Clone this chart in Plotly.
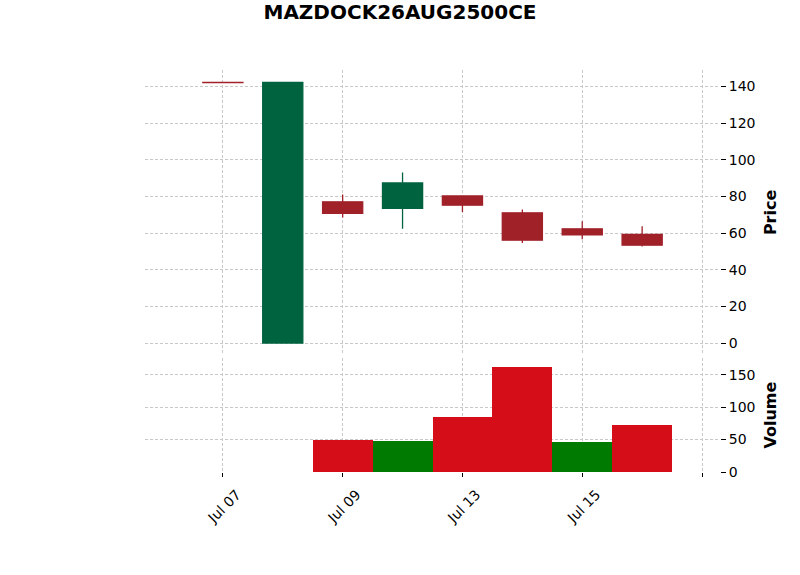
import plotly.graph_objects as go

dates = ["Jul 07", "Jul 08", "Jul 09", "Jul 10", "Jul 13", "Jul 14", "Jul 15", "Jul 16"]
opens = [142.2, 0.0, 77.0, 73.5, 80.2, 71.0, 62.3, 59.2]
highs = [142.2, 142.2, 81.0, 93.0, 80.5, 72.8, 66.4, 63.7]
lows = [142.0, 0.0, 68.5, 62.3, 71.5, 54.6, 56.6, 52.7]
closes = [142.0, 142.2, 70.8, 87.3, 75.2, 56.1, 59.0, 53.4]
volumes = [0, 0, 50, 48, 85, 162, 46, 72]

tick_pos = [0, 2, 4, 6, 8]
tick_labels = ["Jul 07", "Jul 09", "Jul 13", "Jul 15", ""]
price_ticks = [0, 20, 40, 60, 80, 100, 120, 140]
volume_ticks = [0, 50, 100, 150]

UP_C, DOWN_C = "#006340", "#a02128"
VUP_C, VDOWN_C = "#007a00", "#d50d18"

idx = list(range(len(dates)))
vcolors = []
for i in idx:
    prev = closes[i - 1] if i > 0 else opens[i]
    vcolors.append(VUP_C if closes[i] >= prev else VDOWN_C)

fig = go.Figure()
fig.add_trace(go.Candlestick(
    x=idx, open=opens, high=highs, low=lows, close=closes,
    increasing=dict(line=dict(color=UP_C, width=1.3), fillcolor=UP_C),
    decreasing=dict(line=dict(color=DOWN_C, width=1.3), fillcolor=DOWN_C),
    xaxis="x", yaxis="y", showlegend=False, hoverinfo="skip",
))
fig.add_trace(go.Bar(
    x=idx, y=volumes, width=1.0, marker=dict(color=vcolors, line=dict(width=0)),
    xaxis="x2", yaxis="y2", showlegend=False,
))

grid = dict(showgrid=True, gridcolor="#c8c8c8", gridwidth=0.8, griddash="3px,2px", zeroline=False)
fig.update_layout(
    width=800, height=575,
    margin=dict(l=145, r=80, t=70, b=103),
    plot_bgcolor="white", paper_bgcolor="white",
    font=dict(family="DejaVu Sans", size=14, color="black"),
    title=dict(text="<b>MAZDOCK26AUG2500CE</b>", x=0.5, xanchor="center", y=0.98, yanchor="middle",
               font=dict(size=20, family="DejaVu Sans", color="black")),
    boxgap=0.33, boxgroupgap=0,
    xaxis=dict(domain=[0, 1], anchor="y", range=[-1.3, 8.3], tickvals=tick_pos, ticktext=tick_labels,
               showticklabels=False, rangeslider=dict(visible=False), **grid),
    yaxis=dict(domain=[0.2916, 1], anchor="x", side="right", range=[-6.37, 148.9], tickvals=price_ticks,
               ticks="outside", ticklen=5, tickcolor="black", tickwidth=1,
               title=dict(text="<b>Price</b>", font=dict(size=16), standoff=10), **grid),
    xaxis2=dict(domain=[0, 1], anchor="y2", range=[-1.3, 8.3], tickvals=tick_pos, ticktext=tick_labels,
                ticks="outside", ticklen=4, tickcolor="black", tickangle=-45,
                ticklabelshift=14, ticklabelstandoff=4, **grid),
    yaxis2=dict(domain=[0, 0.2834], anchor="x2", side="right", range=[0, 175.7], tickvals=volume_ticks,
                ticks="outside", ticklen=5, tickcolor="black", tickwidth=1,
                title=dict(text="<b>Volume</b>", font=dict(size=16), standoff=10), **grid),
    bargap=0,
)
fig.write_html("out.html")
